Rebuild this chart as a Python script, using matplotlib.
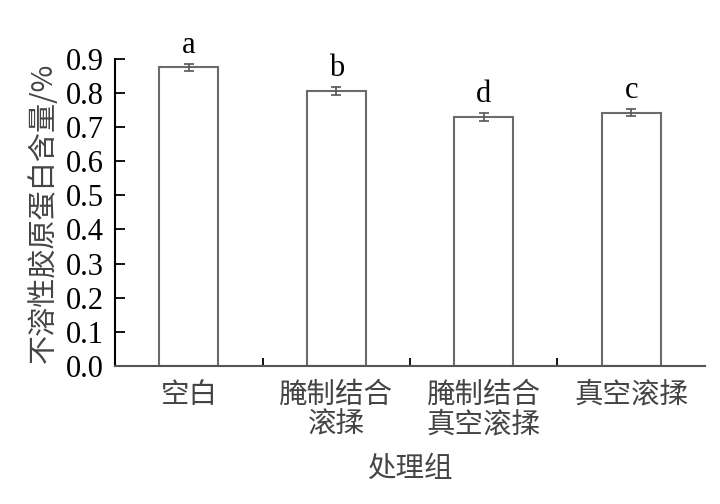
import numpy as np
import matplotlib.pyplot as plt

# data
groups = ["空白", "腌制结合\n滚揉", "腌制结合\n真空滚揉", "真空滚揉"]
values = [0.875, 0.806, 0.730, 0.743]
errors = [0.011, 0.011, 0.011, 0.011]
letters = ["a", "b", "d", "c"]

serif = "Liberation Serif"
cjk = "Noto Sans CJK SC"

fig = plt.figure(figsize=(7.2, 5.04), dpi=100)
ax = fig.add_axes([0.16, 0.274, 0.819, 0.609])

x = np.arange(len(groups))
ax.bar(x, values, width=0.4, color="white", edgecolor="#6b6b6b", linewidth=1.5)
ax.errorbar(x, values, yerr=errors, fmt="none", ecolor="#555555",
            elinewidth=1.2, capsize=3.5, capthick=1.2)

for xi, v, e, lab in zip(x, values, errors, letters):
    ax.text(xi, v + e + 0.012, lab, ha="center", va="bottom",
            fontsize=22, family=serif)

ax.set_xlim(-0.5, 3.5)
ax.set_ylim(0, 0.9)
ax.set_yticks(np.arange(0, 0.91, 0.1))
ax.set_yticklabels([f"{t:.1f}" for t in np.arange(0, 0.91, 0.1)],
                   family=serif, fontsize=22)
ax.set_xticks(x)
ax.set_xticklabels(groups, family=cjk, fontsize=20.5, linespacing=1.0)
ax.set_xticks([0.5, 1.5, 2.5], minor=True)

ax.tick_params(axis="y", direction="in", length=7, width=1.3, pad=8)
ax.tick_params(axis="x", which="major", length=0, pad=10)
ax.tick_params(axis="x", which="minor", direction="in", length=6, width=1.3)

ax.spines["top"].set_visible(False)
ax.spines["right"].set_visible(False)
ax.spines["left"].set_linewidth(1.5)
ax.spines["bottom"].set_linewidth(1.5)
ax.spines["bottom"].set_color("#555555")

ax.set_ylabel("不溶性胶原蛋白含量/%", family=[cjk, "DejaVu Sans"], fontsize=21,
              color="#444444", labelpad=5)
ax.set_xlabel("处理组", family=cjk, fontsize=20.5, color="#444444", labelpad=10)

for lbl in ax.get_xticklabels():
    lbl.set_color("#444444")

fig.savefig("out.png", dpi=100)
